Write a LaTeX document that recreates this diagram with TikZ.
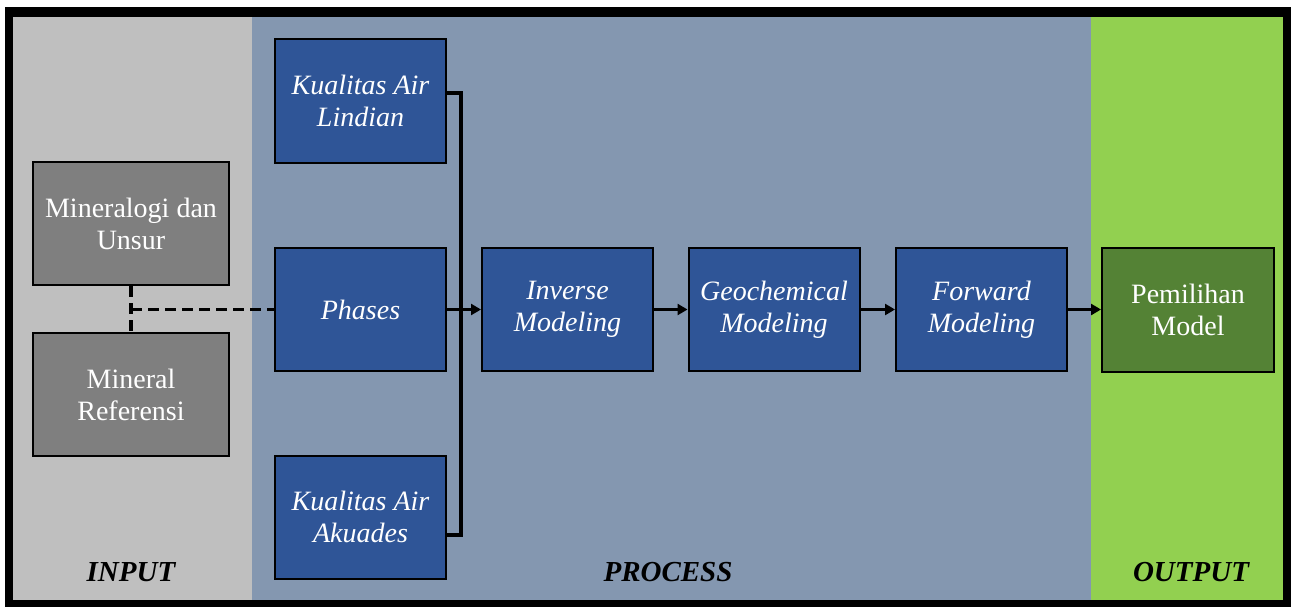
\documentclass[tikz,border=0pt]{standalone}
\usepackage{fontspec}
\setmainfont{Liberation Serif}
\usetikzlibrary{arrows.meta,calc}
\definecolor{inbg}{HTML}{BFBFBF}
\definecolor{procbg}{HTML}{8497B0}
\definecolor{outbg}{HTML}{92D050}
\definecolor{bluebox}{HTML}{2F5597}
\definecolor{graybox}{HTML}{7F7F7F}
\definecolor{greenbox}{HTML}{548235}
\begin{document}
\begin{tikzpicture}[x=1pt,y=-1pt,
  boxbase/.style={draw=black, line width=2pt, align=center, text=white, inner sep=0pt,
    font=\fontsize{28}{32}\selectfont},
  procbox/.style={boxbase, fill=bluebox, minimum width=171pt, minimum height=123pt,
    font=\fontsize{28}{32}\selectfont\itshape},
  inbox/.style={boxbase, fill=graybox, minimum width=196pt, minimum height=123pt},
  outbox/.style={boxbase, fill=greenbox, minimum width=172pt, minimum height=124pt},
  conn/.style={line width=3.2pt, draw=black},
  arr/.style={conn, -{Triangle[length=10pt,width=11pt]}},
  dashconn/.style={line width=3.2pt, dash pattern=on 11pt off 6pt},
  sectlabel/.style={font=\fontsize{29}{32}\selectfont\bfseries\itshape, text=black}]
\useasboundingbox (0,0) rectangle (1292,607);
% frame and section backgrounds
\fill[black] (5,7) rectangle (1291,607);
\fill[inbg] (13,17) rectangle (252,600);
\fill[procbg] (252,17) rectangle (1091,600);
\fill[outbg] (1091,17) rectangle (1283,600);
% nodes
\node[inbox] (min1) at (131,223.5) {Mineralogi dan\\Unsur};
\node[inbox] (min2) at (131,394.5) {Mineral\\Referensi};
\node[procbox] (lind) at (360.5,101) {Kualitas Air\\Lindian};
\node[procbox] (phases) at (360.5,309.5) {Phases};
\node[procbox] (akua) at (360.5,517) {Kualitas Air\\Akuades};
\node[procbox] (inv) at (567.5,309.5) {Inverse\\Modeling};
\node[procbox] (geo) at (774,309.5) {Geochemical\\Modeling};
\node[procbox] (fwd) at (981.5,309.5) {Forward\\Modeling};
\node[outbox] (pem) at (1188,309.5) {Pemilihan\\Model};
% section labels
\node[sectlabel] (lin) at (131,572) {INPUT};
\node[sectlabel] (lproc) at (668,572) {PROCESS};
\node[sectlabel] (lout) at (1191,572) {OUTPUT};
% connectors
\coordinate (j) at (461,309.5);
\draw[conn] ($(lind.east)+(0,-8)$) -| (j);
\draw[conn] ($(akua.east)+(0,18)$) -| (j);
\draw[arr] (phases.east) -- (inv.west);
\draw[arr] (inv.east) -- (geo.west);
\draw[arr] (geo.east) -- (fwd.west);
\draw[arr] (fwd.east) -- (pem.west);
\draw[dashconn] (min1.south) -- (min2.north);
\draw[dashconn] (min1.south |- phases.west) -- (phases.west);
\end{tikzpicture}
\end{document}
